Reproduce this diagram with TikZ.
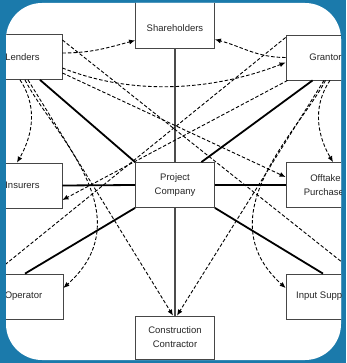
\documentclass[tikz,border=0pt]{standalone}
\usepackage{fontspec}
\setmainfont{Liberation Sans}
\usetikzlibrary{arrows.meta,calc}
\definecolor{frameblue}{RGB}{27,122,171}
\definecolor{boxline}{RGB}{70,70,70}

\begin{document}
\begin{tikzpicture}[x=1pt,y=-1pt,
  party/.style={draw=boxline, line width=0.8pt, fill=white,
    minimum width=79pt, minimum height=45pt, inner sep=0pt,
    align=center, font=\fontsize{9.5}{14}\selectfont, text=black!85},
  contract/.style={line width=1.8pt, black},
  spine/.style={line width=1.4pt, black!70},
  direct/.style={line width=0.9pt, dash pattern=on 3.5pt off 2pt,
    -{Latex[length=6pt,width=5pt]}},
]
\useasboundingbox (0,0) rectangle (346,363);

% blue frame with white rounded panel
\fill[frameblue] (0,0) rectangle (346,363);
\fill[white, rounded corners=36pt] (6,3) rectangle (341,360);

\begin{scope}
\clip[rounded corners=36pt] (6,3) rectangle (341,360);

% parties
\node[party, minimum height=53pt, text height=20pt] (sh) at (175,21.5) {Shareholders};
\node[party] (len) at (22.5,57) {Lenders};
\node[party] (gr)  at (325.5,57.5) {Grantor};
\node[party] (ins) at (22.5,185.5) {Insurers};
\node[party] (pc)  at (175,185) {Project\\Company};
\node[party] (off) at (325.5,185) {Offtake\\Purchaser};
\node[party] (op)  at (23.5,296.5) {Operator};
\node[party] (inp) at (325.5,296.5) {Input Supplier};
\node[party, minimum height=43pt] (cc) at (175,337.5) {Construction\\Contractor};

% contracts with the project company
\draw[spine] (sh.south) -- (pc.north);
\draw[spine] (pc.south) -- (cc.north);
\draw[contract] ([xshift=17.5pt]len.south) -- (pc.north west);
\draw[contract] ([xshift=27pt]gr.south west) -- ([xshift=-13.5pt]pc.north east);
\draw[contract] (ins.east) -- (pc.west);
\draw[contract] (pc.east) -- (off.west);
\draw[contract] ([xshift=1.5pt]op.north) -- (pc.south west);
\draw[contract] ([xshift=-2.5pt]inp.north) -- (pc.south east);

% direct agreements from the lenders
\draw[direct] ([yshift=4pt]len.east) to[out=0,in=195] ([yshift=8pt]sh.south west);
\draw[direct] ([yshift=-11pt]len.east) .. controls (130,95) and (210,92) .. ([yshift=-5pt]gr.west);
\draw[direct] ([yshift=-16pt]len.east) -- ([yshift=8pt]off.west);
\draw[direct] ([yshift=17pt]len.east) -- ([xshift=-9pt]inp.north east);
\draw[direct] ([xshift=-2.5pt]len.south) .. controls (40,110) and (30,140) .. ([xshift=-5.5pt]ins.north);
\draw[direct] ([xshift=2.5pt]len.south) .. controls (50,130) and (145,215) .. ([yshift=8.5pt]op.east);
\draw[direct] ([xshift=5.5pt]len.south) -- ([xshift=-2pt]cc.north);

% direct agreements from the grantor
\draw[direct] (gr.west) to[out=180,in=-15] ([yshift=9pt]sh.south east);
\draw[direct] ([xshift=4.5pt]gr.south) .. controls (310,110) and (320,140) .. ([xshift=7.5pt]off.north);
\draw[direct] (gr.south) .. controls (300,130) and (205,215) .. ([yshift=8.5pt]inp.west);
\draw[direct] ([xshift=-1.5pt]gr.south) -- ([xshift=2pt]cc.north);
\draw[direct] ([yshift=20pt]gr.west) -- ([xshift=-29.5pt]op.north);
\draw[direct] ([xshift=2pt]gr.south west) -- ([yshift=-14.5pt]ins.east);
\end{scope}
\end{tikzpicture}
\end{document}
